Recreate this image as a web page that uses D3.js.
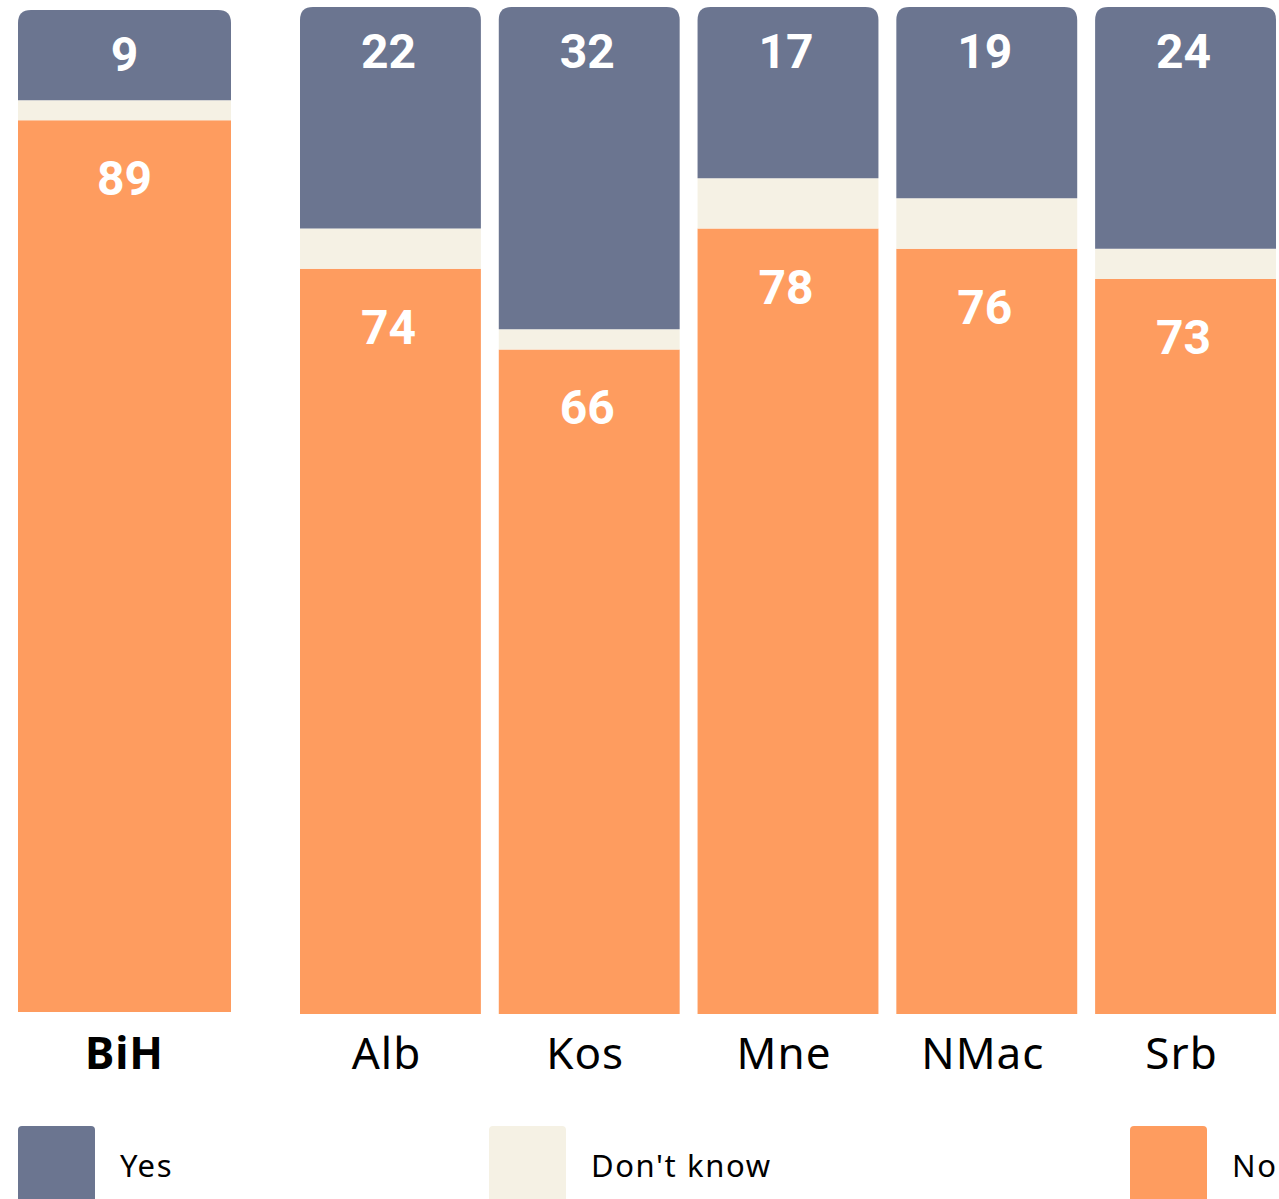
<!DOCTYPE html>
<meta charset="utf-8">
<html>
<head>
<script src="https://d3js.org/d3.v7.min.js" charset="utf-8"></script>
<style>
body { margin: 0; background: #fff; }
svg { display: block; }
.val { fill: #fff; font: bold 48px Roboto, sans-serif; }
.cat { fill: #000; font: 44px "Noto Sans", sans-serif; letter-spacing: 1px; }
.leg { fill: #000; font: 31px "Noto Sans", sans-serif; letter-spacing: 1.6px; }
</style>
</head>
<body>
<svg width="1279" height="1199"></svg>
<script>
// data (percent)
var countries = ["BiH", "Alb", "Kos", "Mne", "NMac", "Srb"];
var yes      = [9, 22, 32, 17, 19, 24];
var dontKnow = [2, 4, 2, 5, 5, 3];
var no       = [89, 74, 66, 78, 76, 73];
var seriesNames = ["Yes", "Don't know", "No"];
var colors = ["#6b7590", "#f5f1e4", "#fe9c5f"];

var svg = d3.select("svg");

var rows = countries.map(function(c, i) {
  return {country: c, "Yes": yes[i], "Don't know": dontKnow[i], "No": no[i]};
});
// No at the bottom, Yes on top
var stackKeys = seriesNames.slice().reverse();
var stack = d3.stack().keys(stackKeys)(rows);
var colorOf = d3.scaleOrdinal().domain(seriesNames).range(colors);

// BiH is drawn apart from the rest
var xBiH = d3.scaleBand().domain(["BiH"]).range([18, 231]);
var xRest = d3.scaleBand().domain(countries.slice(1)).range([300, 1276]).paddingInner(0.09);
function xPos(c) { return c === "BiH" ? xBiH(c) : xRest(c); }
function bw(c) { return c === "BiH" ? xBiH.bandwidth() : xRest.bandwidth(); }

var yBiH = d3.scaleLinear().domain([0, 100]).range([1012, 10]);
var yRest = d3.scaleLinear().domain([0, 100]).range([1014, 7]);
function yS(c) { return c === "BiH" ? yBiH : yRest; }

var r = 13;
function segPath(c, y0, y1, top) {
  var x0 = xPos(c), x1 = x0 + bw(c), y = yS(c);
  var yt = y(y1), yb = y(y0);
  if (!top) return "M" + x0 + "," + yt + "H" + x1 + "V" + yb + "H" + x0 + "Z";
  return "M" + x0 + "," + yb + "V" + (yt + r) + "Q" + x0 + "," + yt + " " + (x0 + r) + "," + yt +
    "H" + (x1 - r) + "Q" + x1 + "," + yt + " " + x1 + "," + (yt + r) + "V" + yb + "Z";
}

var layer = svg.selectAll(".layer")
  .data(stack)
  .enter().append("g")
    .attr("class", "layer")
    .attr("fill", function(d) { return colorOf(d.key); });

layer.selectAll("path")
  .data(function(d) { return d.map(function(p) { p.key = d.key; return p; }); })
  .enter().append("path")
    .attr("d", function(p) { return segPath(p.data.country, p[0], p[1], p.key === "Yes"); });

// value labels for Yes (top) and No (below DK), category names
var g = svg.append("g");
rows.forEach(function(d) {
  var c = d.country, y = yS(c), cx = xPos(c) + bw(c) / 2;
  g.append("text").attr("class", "val").attr("text-anchor", "middle")
    .attr("x", cx - (c === "BiH" ? 0 : 2)).attr("y", y(100) + 61).text(d["Yes"]);
  g.append("text").attr("class", "val").attr("text-anchor", "middle")
    .attr("x", cx - (c === "BiH" ? 0 : 2)).attr("y", y(d["No"]) + 75).text(d["No"]);
  g.append("text").attr("class", "cat").attr("text-anchor", "middle")
    .attr("x", cx - (c === "BiH" ? 0 : 4)).attr("y", 1069)
    .style("font-weight", c === "BiH" ? "bold" : "normal")
    .text(c);
});

// legend
var legX = [18, 489, 1130];
var leg = svg.selectAll(".legitem")
  .data(seriesNames)
  .enter().append("g")
    .attr("class", "legitem")
    .attr("transform", function(d, i) { return "translate(" + legX[i] + ",1126)"; });
leg.append("rect")
  .attr("width", 77).attr("height", 100).attr("rx", 4)
  .attr("fill", function(d) { return colorOf(d); });
leg.append("text")
  .attr("class", "leg")
  .attr("x", 102).attr("y", 51)
  .text(function(d) { return d; });
</script>
</body>
</html>
